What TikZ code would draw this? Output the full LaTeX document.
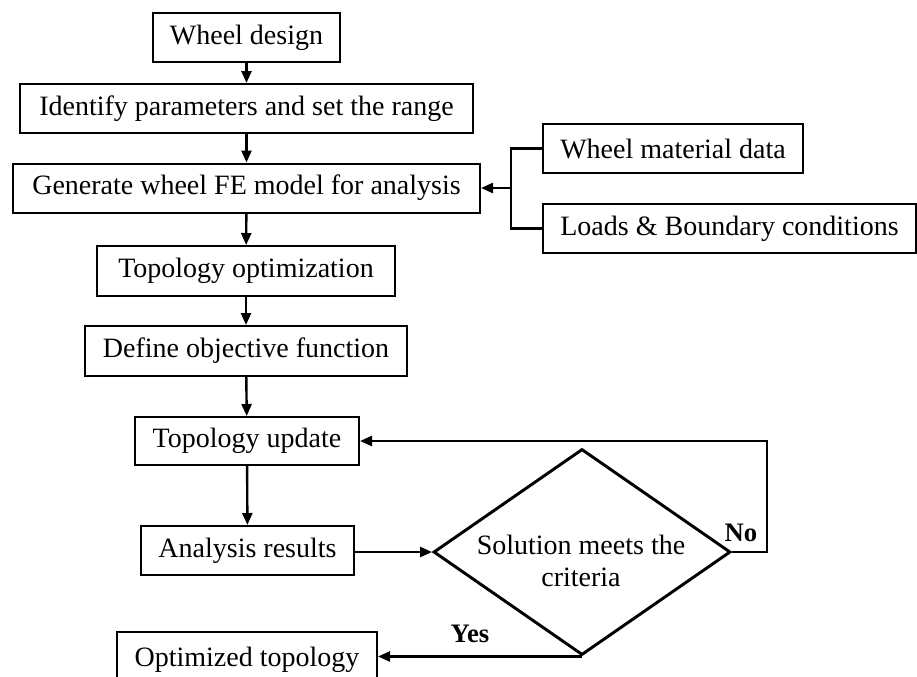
\documentclass[tikz,border=0pt]{standalone}
\usepackage{fontspec}
\setmainfont{Liberation Serif}
\usetikzlibrary{arrows.meta,shapes.geometric}
\begin{document}
\begin{tikzpicture}[
  x=0.75pt, y=-0.75pt,
  every node/.style={font=\fontsize{21pt}{24pt}\selectfont, text=black},
  box/.style={draw, line width=1.5pt, inner sep=0pt, minimum height=49*0.75pt},
  decision/.style={draw, diamond, line width=2.2pt, inner sep=0pt,
    minimum width=297*0.75pt, minimum height=206*0.75pt},
  link/.style={line width=1.8pt},
  arr/.style={link, -{Triangle[length=9pt,width=7.5pt]}},
  tag/.style={font=\fontsize{20pt}{22pt}\selectfont\bfseries}
]
\useasboundingbox (0,0) rectangle (917,676);
\clip (0,0) rectangle (917,676);

% main column
\node[box, minimum width=187*0.75pt] (wd)   at (246.5,37.5)  {Wheel design};
\node[box, minimum width=453*0.75pt] (idp)  at (246.5,108.5) {Identify parameters and set the range};
\node[box, minimum width=467*0.75pt] (gen)  at (246.5,188)   {Generate wheel FE model for analysis};
\node[box, minimum width=298*0.75pt, minimum height=50*0.75pt] (topo) at (246,271) {Topology optimization};
\node[box, minimum width=322*0.75pt, minimum height=50*0.75pt] (obj)  at (246,351) {Define objective function};
\node[box, minimum width=224*0.75pt, minimum height=48*0.75pt] (tu)   at (247,441) {Topology update};
\node[box, minimum width=213*0.75pt] (ar)   at (247.5,550.5) {Analysis results};
\node[box, minimum width=260*0.75pt, minimum height=56*0.75pt] (opt) at (247,660) {Optimized topology};

% side inputs
\node[box, minimum width=260*0.75pt] (wmd)  at (673,148.5)   {Wheel material data};
\node[box, minimum width=373*0.75pt] (lbc)  at (729.5,228.5) {Loads \& Boundary conditions};

% decision
\node[decision] (d) at (582,552) {};
\node[align=center] (dtxt) at (581,561) {Solution meets the\\criteria};

% connectors
\draw[arr] (wd) -- (idp);
\draw[arr] (idp) -- (gen);
\draw[arr] (gen) -- (topo);
\draw[arr] (topo) -- (obj);
\draw[arr] (obj) -- (tu);
\draw[arr] (tu) -- (ar);
\draw[arr] (ar.east |- d.west) -- (d.west);

\coordinate (j) at (511,188);
\draw[link] (wmd.west) -| (j) |- (lbc.west);
\draw[arr] (j) -- (gen.east);

\coordinate (loop) at (767,441);
\draw[arr] (d.east) -| (loop) -- (tu.east);
\draw[arr] (d.south) -- (d.south -| opt.east);

\node[tag] (no)  at (741,533) {No};
\node[tag] (yes) at (470,634) {Yes};
\end{tikzpicture}
\end{document}
